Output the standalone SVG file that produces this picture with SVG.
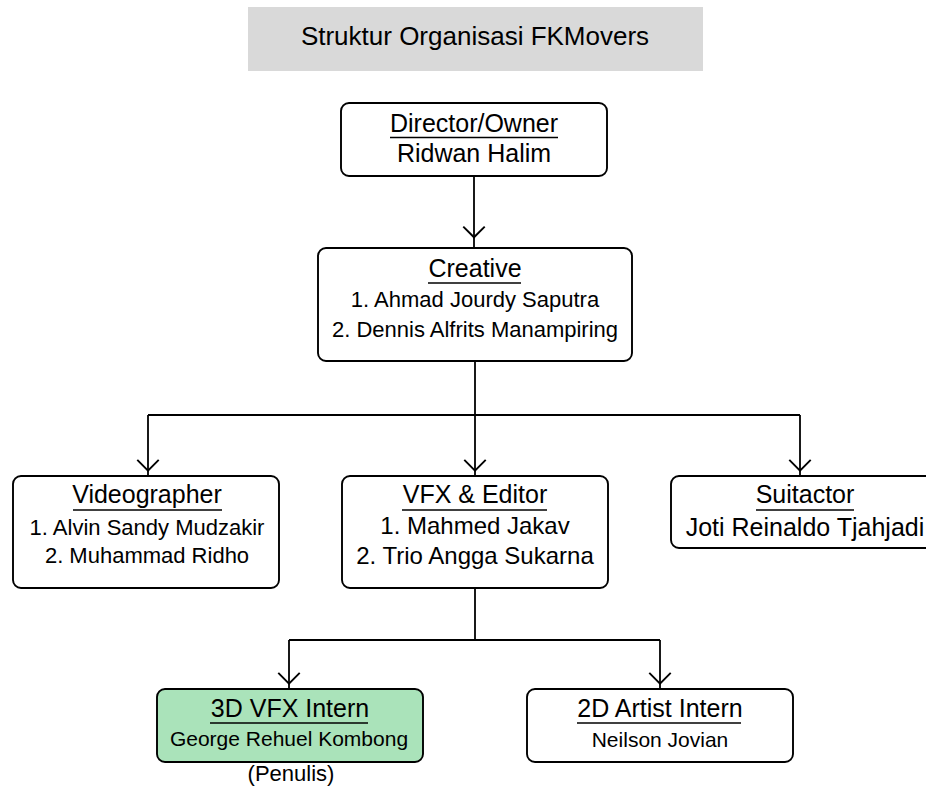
<svg xmlns="http://www.w3.org/2000/svg" width="926" height="789" viewBox="0 0 926 789">
<style>
  text { font-family: "Liberation Sans", Arial, sans-serif; fill: #000; text-anchor: middle; }
  .box { fill: #fff; stroke: #000; stroke-width: 1.9; }
  .green { fill: #aae3ba; }
  .ul { stroke: #000; stroke-width: 1.6; }
  .conn { fill: none; stroke: #000; stroke-width: 1.8; }
  .h { font-size: 25px; }
</style>
<defs>
  <marker id="arr" markerUnits="userSpaceOnUse" markerWidth="30" markerHeight="30" viewBox="-2 -14 24 28" refX="15" refY="0" orient="auto">
    <path d="M0,-10 L10,0 L0,10" fill="none" stroke="#000" stroke-width="1.8"/>
  </marker>
  <marker id="arr2" markerUnits="userSpaceOnUse" markerWidth="30" markerHeight="30" viewBox="-2 -14 24 28" refX="20" refY="0" orient="auto">
    <path d="M0,-10 L10,0 L0,10" fill="none" stroke="#000" stroke-width="1.8"/>
  </marker>
</defs>
<rect x="248" y="7" width="455" height="64" fill="#d9d9d9"/>
<text x="475" y="45" style="font-size:26px">Struktur Organisasi FKMovers</text>

<g id="connectors">
  <path class="conn" d="M474,176 L474,248" marker-end="url(#arr2)"/>
  <path class="conn" d="M475,361 L475,415"/>
  <path class="conn" d="M148,415 L800,415"/>
  <path class="conn" d="M148,415 L148,476" marker-end="url(#arr)"/>
  <path class="conn" d="M475,415 L475,476" marker-end="url(#arr)"/>
  <path class="conn" d="M800,415 L800,476" marker-end="url(#arr)"/>
  <path class="conn" d="M475,588 L475,640"/>
  <path class="conn" d="M289,640 L660,640"/>
  <path class="conn" d="M289,640 L289,689" marker-end="url(#arr)"/>
  <path class="conn" d="M660,640 L660,689" marker-end="url(#arr)"/>
</g>

<g id="director">
  <rect class="box" x="341" y="103" width="266" height="73" rx="8"/>
  <text class="h" x="474" y="132">Director/Owner</text>
  <line class="ul" x1="390" y1="137.5" x2="558" y2="137.5"/>
  <text class="h" x="474" y="162">Ridwan Halim</text>
</g>

<g id="creative">
  <rect class="box" x="318" y="248" width="314" height="113" rx="8"/>
  <text class="h" x="475" y="277">Creative</text>
  <line class="ul" x1="428" y1="283" x2="521" y2="283"/>
  <text x="475" y="307" style="font-size:22px">1. Ahmad Jourdy Saputra</text>
  <text x="475" y="337" style="font-size:22px">2. Dennis Alfrits Manampiring</text>
</g>

<g id="videographer">
  <rect class="box" x="13" y="476" width="266" height="112" rx="8"/>
  <text class="h" x="147" y="503">Videographer</text>
  <line class="ul" x1="73" y1="510" x2="222" y2="510"/>
  <text x="147" y="535" style="font-size:22px">1. Alvin Sandy Mudzakir</text>
  <text x="147" y="563" style="font-size:22px">2. Muhammad Ridho</text>
</g>

<g id="vfx-editor">
  <rect class="box" x="342" y="476" width="266" height="112" rx="8"/>
  <text class="h" x="475" y="503">VFX &amp; Editor</text>
  <line class="ul" x1="402" y1="510" x2="547" y2="510"/>
  <text class="h" x="475" y="534" style="font-size:24px">1. Mahmed Jakav</text>
  <text class="h" x="475" y="564" style="font-size:24px">2. Trio Angga Sukarna</text>
</g>

<g id="suitactor">
  <rect class="box" x="671" y="476" width="268" height="72" rx="8"/>
  <text class="h" x="805" y="503">Suitactor</text>
  <line class="ul" x1="756" y1="510" x2="854" y2="510"/>
  <text class="h" x="805" y="536">Joti Reinaldo Tjahjadi</text>
</g>

<g id="vfx3d-intern">
  <rect class="box green" x="157" y="689" width="266" height="73" rx="8"/>
  <text class="h" x="290" y="717">3D VFX Intern</text>
  <line class="ul" x1="210" y1="723" x2="368" y2="723"/>
  <text x="289" y="746" style="font-size:21px">George Rehuel Kombong</text>
  <text x="291" y="781" style="font-size:22px">(Penulis)</text>
</g>

<g id="artist2d-intern">
  <rect class="box" x="527" y="689" width="266" height="73" rx="8"/>
  <text class="h" x="660" y="717">2D Artist Intern</text>
  <line class="ul" x1="577" y1="723" x2="741" y2="723"/>
  <text x="660" y="747" style="font-size:21px">Neilson Jovian</text>
</g>
</svg>
